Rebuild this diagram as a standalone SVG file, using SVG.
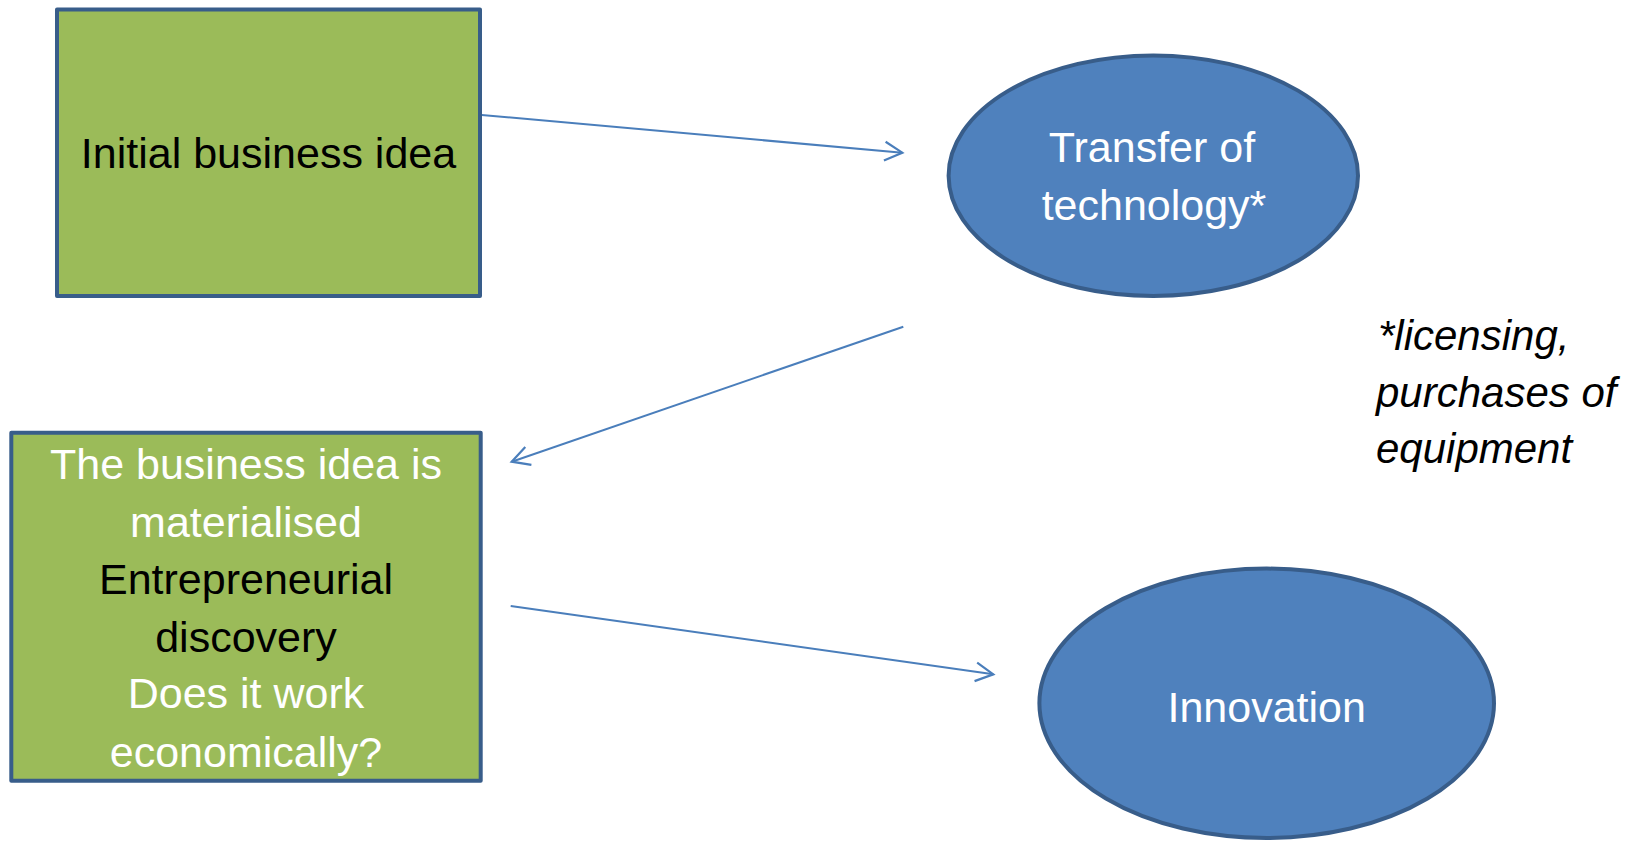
<svg xmlns="http://www.w3.org/2000/svg" width="1642" height="841" viewBox="0 0 1642 841">
  <style>
    .box { fill: #9bbb59; stroke: #385d8a; stroke-width: 4; stroke-linejoin: round; }
    .oval { fill: #4f81bd; stroke: #385d8a; stroke-width: 4; }
    .lbl { font-family: "Liberation Sans", Arial, sans-serif; font-size: 43px; text-anchor: middle; }
    .white { fill: #ffffff; }
    .black { fill: #000000; }
    .note { font-family: "Liberation Sans", Arial, sans-serif; font-size: 42px; font-style: italic; fill: #000000; }
    .link { stroke: #4a7ebb; stroke-width: 2; fill: none; }
  </style>
  <defs>
    <marker id="open-arrow" viewBox="-22 -12 26 24" markerWidth="26" markerHeight="24" refX="0" refY="0" orient="auto" markerUnits="userSpaceOnUse">
      <path d="M -17.6 -9.4 L 0 0 L -17.6 9.4" fill="none" stroke="#4a7ebb" stroke-width="2.2" stroke-linejoin="miter"/>
    </marker>
  </defs>

  <rect width="1642" height="841" fill="#ffffff"/>

  <!-- connectors -->
  <g id="connectors">
    <line class="link" x1="481.7" y1="115" x2="902.3" y2="152.7" marker-end="url(#open-arrow)"/>
    <line class="link" x1="903.3" y1="326.7" x2="511.7" y2="461.7" marker-end="url(#open-arrow)"/>
    <line class="link" x1="510.7" y1="606" x2="993.3" y2="674.3" marker-end="url(#open-arrow)"/>
  </g>

  <!-- starting idea -->
  <g id="initial-idea">
    <rect class="box" x="57" y="9.5" width="423" height="286.5"/>
    <text class="lbl black" x="268.5" y="168">Initial business idea</text>
  </g>

  <!-- technology transfer -->
  <g id="technology-transfer">
    <ellipse class="oval" cx="1153.3" cy="175.7" rx="204.7" ry="120.3"/>
    <text class="lbl white" x="1152" y="161.7">Transfer of</text>
    <text class="lbl white" x="1154" y="220">technology*</text>
  </g>

  <!-- materialisation / discovery -->
  <g id="materialised">
    <rect class="box" x="11.3" y="432.7" width="469.4" height="348"/>
    <text class="lbl white" x="246" y="479.3">The business idea is</text>
    <text class="lbl white" x="246" y="537.3">materialised</text>
    <text class="lbl black" x="246" y="594">Entrepreneurial</text>
    <text class="lbl black" x="246" y="651.7">discovery</text>
    <text class="lbl white" x="246" y="708.3">Does it work</text>
    <text class="lbl white" x="246" y="766.7">economically?</text>
  </g>

  <!-- outcome -->
  <g id="innovation">
    <ellipse class="oval" cx="1266.7" cy="703.3" rx="227.3" ry="134.7"/>
    <text class="lbl white" x="1266.7" y="721.7">Innovation</text>
  </g>

  <!-- footnote for the asterisk -->
  <g id="footnote">
    <text class="note" x="1378" y="350">*licensing,</text>
    <text class="note" x="1376" y="406.5">purchases of</text>
    <text class="note" x="1376" y="463">equipment</text>
  </g>
</svg>
